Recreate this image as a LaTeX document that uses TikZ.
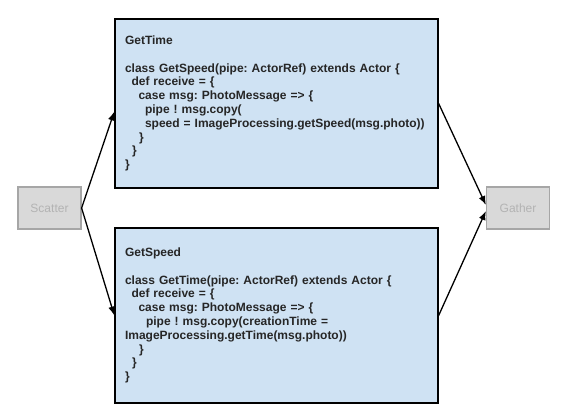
\documentclass[tikz,border=0pt]{standalone}
\usepackage{fontspec}
\setmainfont{Liberation Sans}
\usetikzlibrary{arrows.meta}
\definecolor{boxblue}{HTML}{CFE2F3}
\definecolor{endfill}{HTML}{D9D9D9}
\definecolor{enddraw}{HTML}{A6A6A6}
\definecolor{endtext}{HTML}{B3B3B3}
\definecolor{codetext}{HTML}{262626}
\newcommand{\ind}[1]{\hspace*{#1pt}}
\frenchspacing
\begin{document}
\begin{tikzpicture}[
    codebox/.style={draw=black, line width=1.3pt, fill=boxblue, text=codetext,
      font=\fontsize{12}{13.8}\selectfont\bfseries, align=left,
      text width=303pt, inner xsep=10pt, minimum width=323pt},
    endbox/.style={draw=enddraw, line width=1.2pt, fill=endfill, text=endtext,
      font=\fontsize{12}{13.8}\selectfont, minimum width=63pt, minimum height=42pt},
    flow/.style={line width=1.3pt, -{Latex[length=9pt,width=7pt]}}]
    \useasboundingbox (0,0) rectangle (567pt,-417pt);
        \node[endbox] (scatter) at (49.5pt,-208pt) {Scatter};
        \node[endbox] (gather) at (518pt,-208pt) {Gather};
        \node[codebox, minimum height=169pt] (gettime) at (276.5pt,-103.5pt) {GetTime\\[13.8pt]
class GetSpeed(pipe: ActorRef) extends Actor \{\\
\ind{6.5}def receive = \{\\
\ind{13.5}case msg: PhotoMessage => \{\\
\ind{20}pipe ! msg.copy(\\
\ind{20}speed = ImageProcessing.getSpeed(msg.photo))\\
\ind{14}\}\\
\ind{7}\}\\
\}};
        \node[codebox, minimum height=175pt] (getspeed) at (276.5pt,-315.5pt) {GetSpeed\\[13.8pt]
class GetTime(pipe: ActorRef) extends Actor \{\\
\ind{6.5}def receive = \{\\
\ind{13.5}case msg: PhotoMessage => \{\\
\ind{21}pipe ! msg.copy(creationTime =\\
ImageProcessing.getTime(msg.photo))\\
\ind{14}\}\\
\ind{7}\}\\
\}};
    \draw[flow] (scatter.east) -- ([yshift=-8pt]gettime.west);
    \draw[flow] (scatter.east) -- (getspeed.west);
    \draw[flow] (gettime.east) -- ([yshift=3pt]gather.west);
    \draw[flow] (getspeed.east) -- ([yshift=-3pt]gather.west);
    \end{tikzpicture}
\end{document}
